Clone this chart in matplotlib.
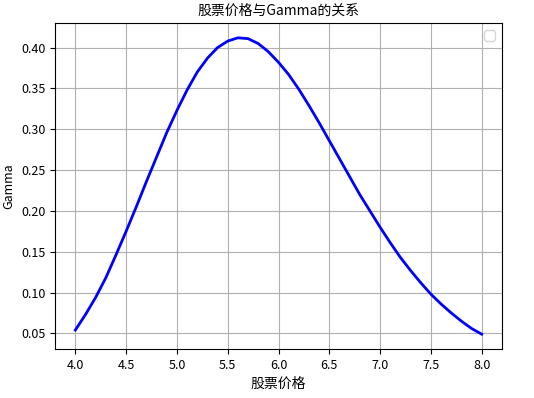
import matplotlib
matplotlib.use("Agg")
import matplotlib.pyplot as plt

plt.rcParams['font.family'] = ['Noto Sans CJK SC', 'DejaVu Sans']
plt.rcParams['axes.unicode_minus'] = False

stock_price = [4.0, 4.1, 4.2, 4.3, 4.4, 4.5, 4.6, 4.7, 4.8, 4.9,
               5.0, 5.1, 5.2, 5.3, 5.4, 5.5, 5.6, 5.7, 5.8, 5.9,
               6.0, 6.1, 6.2, 6.3, 6.4, 6.5, 6.6, 6.7, 6.8, 6.9,
               7.0, 7.1, 7.2, 7.3, 7.4, 7.5, 7.6, 7.7, 7.8, 7.9, 8.0]
gamma = [0.054, 0.073, 0.094, 0.118, 0.146, 0.175, 0.205, 0.236, 0.266, 0.296,
         0.323, 0.348, 0.370, 0.387, 0.400, 0.408, 0.412, 0.411, 0.405, 0.395,
         0.382, 0.367, 0.349, 0.329, 0.308, 0.286, 0.264, 0.242, 0.220, 0.200,
         0.180, 0.161, 0.143, 0.127, 0.112, 0.098, 0.086, 0.075, 0.065, 0.056, 0.049]

title = "股票价格与Gamma的关系"
xlabel = "股票价格"
ylabel = "Gamma"

fig = plt.figure(figsize=(5.34, 3.98), dpi=100)
ax = fig.add_axes([55/534, 1 - 349/398, 447/534, 326/398])
ax.plot(stock_price, gamma, color='blue', linewidth=2)
ax.set_title(title, fontsize=10)
ax.set_xlabel(xlabel, fontsize=10)
ax.set_ylabel(ylabel, fontsize=9)
ax.tick_params(labelsize=9)
ax.grid(True)
ax.set_xticks([4.0, 4.5, 5.0, 5.5, 6.0, 6.5, 7.0, 7.5, 8.0])
ax.set_yticks([0.05, 0.10, 0.15, 0.20, 0.25, 0.30, 0.35, 0.40])
ax.legend(handles=[], loc='upper right')
fig.savefig("out.png", dpi=100)
